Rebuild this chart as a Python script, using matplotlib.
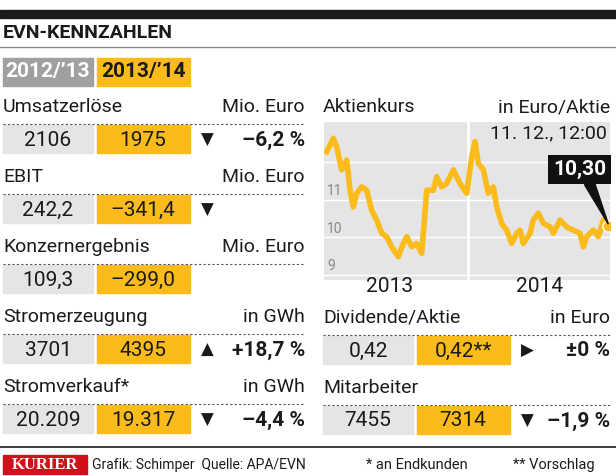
import matplotlib.pyplot as plt
from matplotlib.patches import Rectangle, Polygon
from matplotlib.lines import Line2D

plt.rcParams['font.family'] = 'Roboto'

W, H = 616, 476
ORANGE = '#fbbb1a'
GRAY = '#a0a0a0'
LIGHT = '#e5e5e5'

# Kennzahlen
left_rows = ['Umsatzerlöse', 'EBIT', 'Konzernergebnis', 'Stromerzeugung', 'Stromverkauf*']
left_units = ['Mio. Euro', 'Mio. Euro', 'Mio. Euro', 'in GWh', 'in GWh']
left_old = ['2106', '242,2', '109,3', '3701', '20.209']
left_new = ['1975', '–341,4', '–299,0', '4395', '19.317']
left_arrow = ['▼', '▼', '', '▲', '▼']
left_pct = ['–6,2 %', '', '', '+18,7 %', '–4,4 %']

right_rows = ['Dividende/Aktie', 'Mitarbeiter']
right_units = ['in Euro', '']
right_old = ['0,42', '7455']
right_new = ['0,42**', '7314']
right_arrow = ['▶', '▼']
right_pct = ['±0 %', '–1,9 %']

# Aktienkurs (Monate ab Jan 2013)
kurs_x = [0.22, 0.78, 1.06, 1.47, 1.89, 2.17, 2.44, 2.72, 3.14, 3.56, 3.97, 4.39, 4.81, 5.22,
          5.64, 6.19, 6.61, 6.89, 7.31, 7.72, 8.14, 8.56, 9.11, 9.39, 9.81, 10.22, 10.78, 11.33,
          11.89, 12.31, 12.58, 12.86, 13.28, 13.69, 14.11, 14.39, 14.81, 15.22, 15.64, 16.06,
          16.33, 16.61, 17.17, 17.44, 17.86, 18.28, 18.83, 19.11, 19.67, 20.22, 20.78, 21.33,
          21.61, 21.89, 22.44, 22.86, 23.28, 23.69]
kurs_y = [12.27, 12.63, 12.40, 11.79, 12.05, 11.25, 10.81, 11.17, 11.34, 11.25, 10.72, 10.46,
          10.11, 10.02, 9.75, 9.49, 9.84, 10.02, 9.75, 9.84, 9.58, 11.25, 11.25, 11.61, 11.34,
          11.43, 11.79, 11.43, 11.17, 12.14, 12.54, 11.96, 11.79, 11.17, 11.34, 10.81, 10.37,
          10.19, 9.84, 10.11, 10.19, 9.84, 10.11, 10.46, 10.64, 10.37, 10.28, 10.11, 10.46,
          10.28, 10.19, 10.11, 9.75, 10.02, 10.19, 10.02, 10.46, 10.30]
grid_y = [9, 10, 11, 12]
y_labels = [9, 10, 11]
years = ['2013', '2014']

fig = plt.figure(figsize=(W / 100, H / 100), dpi=100)


def fy(y):
    return 1 - y / H


def rect(x0, y0, x1, y1, color):
    fig.patches.append(Rectangle((x0 / W, fy(y1)), (x1 - x0) / W, (y1 - y0) / H,
                                 color=color, transform=fig.transFigure, zorder=0))


def txt(x, y, s, **kw):
    fig.text(x / W, fy(y), s, va='center', **kw)


def hline(x0, x1, y, **kw):
    fig.lines.append(Line2D([x0 / W, x1 / W], [fy(y), fy(y)], transform=fig.transFigure, **kw))


# Kopf
rect(0, 10, W, 18, '#1a1a1a')
txt(3, 33, 'EVN-KENNZAHLEN', fontsize=14, fontweight='bold', color='#1a1a1a')
hline(0, W, 47, color='#888888', lw=1)
rect(3, 58, 93, 86, GRAY)
rect(97, 58, 190, 86, ORANGE)
txt(48, 72, "2012/’13", fontsize=15, fontweight='bold', color='white', ha='center')
txt(143, 72, "2013/’14", fontsize=15, fontweight='bold', color='#1a1a1a', ha='center')


def block(x0, y, name, unit, old, new, arrow, pct, x_end):
    txt(x0, y, name, fontsize=14, color='#1a1a1a')
    txt(x_end, y, unit, fontsize=14, color='#1a1a1a', ha='right')
    hline(x0, x_end, y + 17, color='#555555', lw=0.8, ls=(0, (2, 2)))
    yv = y + 33
    rect(x0, y + 18, x0 + 90, y + 46, LIGHT)
    rect(x0 + 94, y + 18, x0 + 187, y + 46, ORANGE)
    txt(x0 + 45, yv, old, fontsize=15, color='#1a1a1a', ha='center')
    txt(x0 + 140, yv, new, fontsize=15, color='#1a1a1a', ha='center')
    txt(x0 + 204, yv, arrow, fontsize=12, color='#1a1a1a', ha='center', family='DejaVu Sans')
    txt(x_end, yv, pct, fontsize=15, fontweight='bold', color='#1a1a1a', ha='right')


for i in range(len(left_rows)):
    block(3, 107 + 70 * i, left_rows[i], left_units[i], left_old[i], left_new[i],
          left_arrow[i], left_pct[i], 305)
for i in range(len(right_rows)):
    block(323, 318 + 70 * i, right_rows[i], right_units[i], right_old[i], right_new[i],
          right_arrow[i], right_pct[i], 610)

# Aktienkurs
txt(323, 107, 'Aktienkurs', fontsize=14, color='#1a1a1a')
txt(610, 107, 'in Euro/Aktie', fontsize=14, color='#1a1a1a', ha='right')
ax = fig.add_axes([324 / W, fy(280), 286 / W, 158 / H])
ax.set_facecolor(LIGHT)
ax.set_xlim(0, 23.83)
ax.set_ylim(8.87, 13.06)
for t in grid_y:
    ax.axhline(t, color='white', lw=1, zorder=1)
for t in y_labels:
    ax.text(0.25, t + 0.05, str(t), color='#888888', fontsize=10, va='bottom', zorder=2)
ax.axvline(12, color='white', lw=2, zorder=1)
ax.plot(kurs_x, kurs_y, color=ORANGE, lw=4, zorder=3, solid_joinstyle='round')
ax.plot(kurs_x[-1], kurs_y[-1], 'o', color=ORANGE, ms=8, mec='white', mew=1, zorder=4)
ax.text(23.6, 12.75, '11. 12., 12:00', fontsize=14, ha='right', va='center', color='#1a1a1a')
ax.text(21.3, 11.8, '10,30', fontsize=15, fontweight='bold', color='white', ha='center',
        va='center', zorder=5,
        bbox=dict(boxstyle='square,pad=0.25', fc='#111111', ec='none'))
ax.add_patch(Polygon([[21.7, 11.4], [22.6, 11.4], [kurs_x[-1], kurs_y[-1] + 0.05]],
                     color='#111111', zorder=4))
ax.set_xticks([])
ax.set_yticks([])
for s in ax.spines.values():
    s.set_visible(False)
txt(390, 286, years[0], fontsize=15, color='#1a1a1a', ha='center')
txt(540, 286, years[1], fontsize=15, color='#1a1a1a', ha='center')

# Fuß
hline(0, W, 447, color='#1a1a1a', lw=1.2)
rect(3, 455, 87, 474, '#d0101a')
txt(45, 465, 'KURIER', fontsize=12, fontweight='bold', color='white', ha='center', family='Liberation Serif')
txt(92, 465, 'Grafik: Schimper  Quelle: APA/EVN', fontsize=10, color='#1a1a1a')
txt(366, 465, '* an Endkunden', fontsize=10.5, color='#1a1a1a')
txt(513, 465, '** Vorschlag', fontsize=10.5, color='#1a1a1a')

fig.savefig('out.png', dpi=100)
